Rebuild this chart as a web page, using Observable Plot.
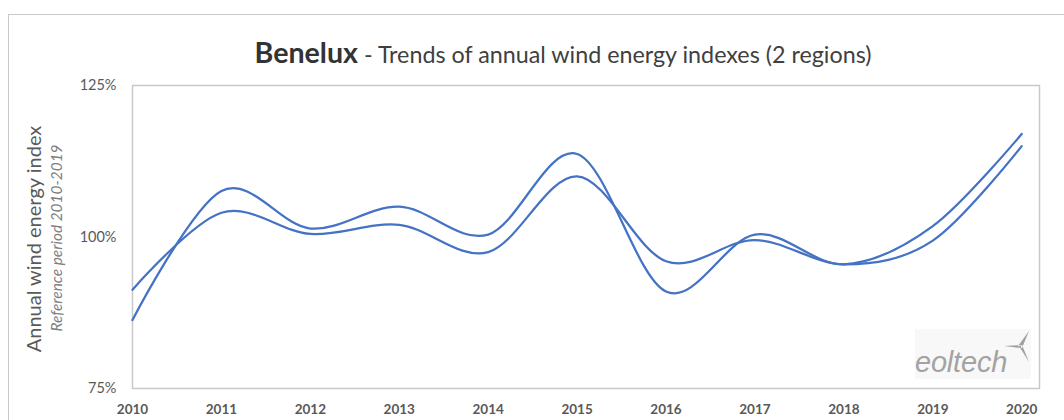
<!DOCTYPE html>
<html><head><meta charset="utf-8">
<script src="https://cdn.jsdelivr.net/npm/d3@7"></script>
<script src="https://cdn.jsdelivr.net/npm/@observablehq/plot@0.6"></script>
<style>
html,body{margin:0;padding:0;background:#fff;width:1064px;height:420px;overflow:hidden;font-family:Lato,sans-serif}
#wrap{position:relative;width:1064px;height:420px;overflow:hidden}
#border{position:absolute;left:8px;top:14px;width:1100px;height:500px;border:1.5px solid #c9c9c9;box-sizing:border-box}
#title{position:absolute;left:0;top:33px;width:1126px;text-align:center;color:#404040;font-size:23.3px;line-height:38px;white-space:nowrap}
#title b{font-size:28.6px;color:#333}
#chart{position:absolute;left:0;top:70px}
#logo{position:absolute;left:915px;top:329px;width:116px;height:50px;background:#f8f8f8}
#logo span{position:absolute;left:0px;top:17px;font:italic 29px "Liberation Sans",sans-serif;color:#a3a3a3;letter-spacing:-.2px;line-height:32px}
#logo svg{position:absolute;left:0;top:0}
</style></head><body>
<div id="wrap">
<div id="border"></div>
<div id="title"><b>Benelux</b> - Trends of annual wind energy indexes (2 regions)</div>
<div id="chart"></div>
<div id="logo"><span>eoltech</span><svg width="116" height="50"><path d="M103 17 L114 2 L107 19Z M104 17 L114 33 L107 16Z M106 16 L89 17 L106 19Z" fill="#a0a0a0"/></svg></div>
</div>
<script>
const years = [2010,2011,2012,2013,2014,2015,2016,2017,2018,2019,2020];
const regionA = [86.3,107.6,101.4,105.0,100.4,113.7,91.0,100.4,95.5,101.8,117.0];
const regionB = [91.3,104.0,100.5,102.0,97.5,110.0,96.0,99.5,95.5,99.4,115.0];
const yTicks = [75,100,125];
const rows = [
  ...years.map((y,i)=>({year:y,value:regionA[i],region:"A"})),
  ...years.map((y,i)=>({year:y,value:regionB[i],region:"B"}))
];
const gray = "#595959";
const plot = Plot.plot({
  width:1064, height:350,
  marginLeft:132, marginRight:25, marginTop:15, marginBottom:32,
  style:{fontFamily:"Lato,sans-serif",background:"transparent"},
  x:{domain:[2010,2020.2]},
  y:{domain:[75,125]},
  marks:[
    Plot.frame({stroke:"#c9c9c9",strokeWidth:1.5,strokeOpacity:1}),
    Plot.axisY({ticks:yTicks,tickSize:0,tickPadding:16,tickFormat:d=>d+"%",fontSize:14.5,color:gray,label:null}),
    Plot.axisX({ticks:years,tickSize:0,tickPadding:16,tickFormat:d=>String(d),fontSize:13.5,fontWeight:"bold",color:gray,label:null}),
    Plot.line(rows,{x:"year",y:"value",z:"region",stroke:"#4472C4",strokeWidth:2.25,curve:"cardinal",tension:0}),
    Plot.text(["Annual wind energy index"],{frameAnchor:"left",textAnchor:"middle",lineWidth:40,dx:-98,dy:2,rotate:-90,fontSize:20,fill:gray}),
    Plot.text(["Reference period 2010-2019"],{frameAnchor:"left",textAnchor:"middle",lineWidth:40,dx:-75,dy:1,rotate:-90,fontSize:15.4,fontStyle:"italic",fill:"#7f7f7f"})
  ]
});
document.getElementById("chart").appendChild(plot);
</script>
</body></html>
